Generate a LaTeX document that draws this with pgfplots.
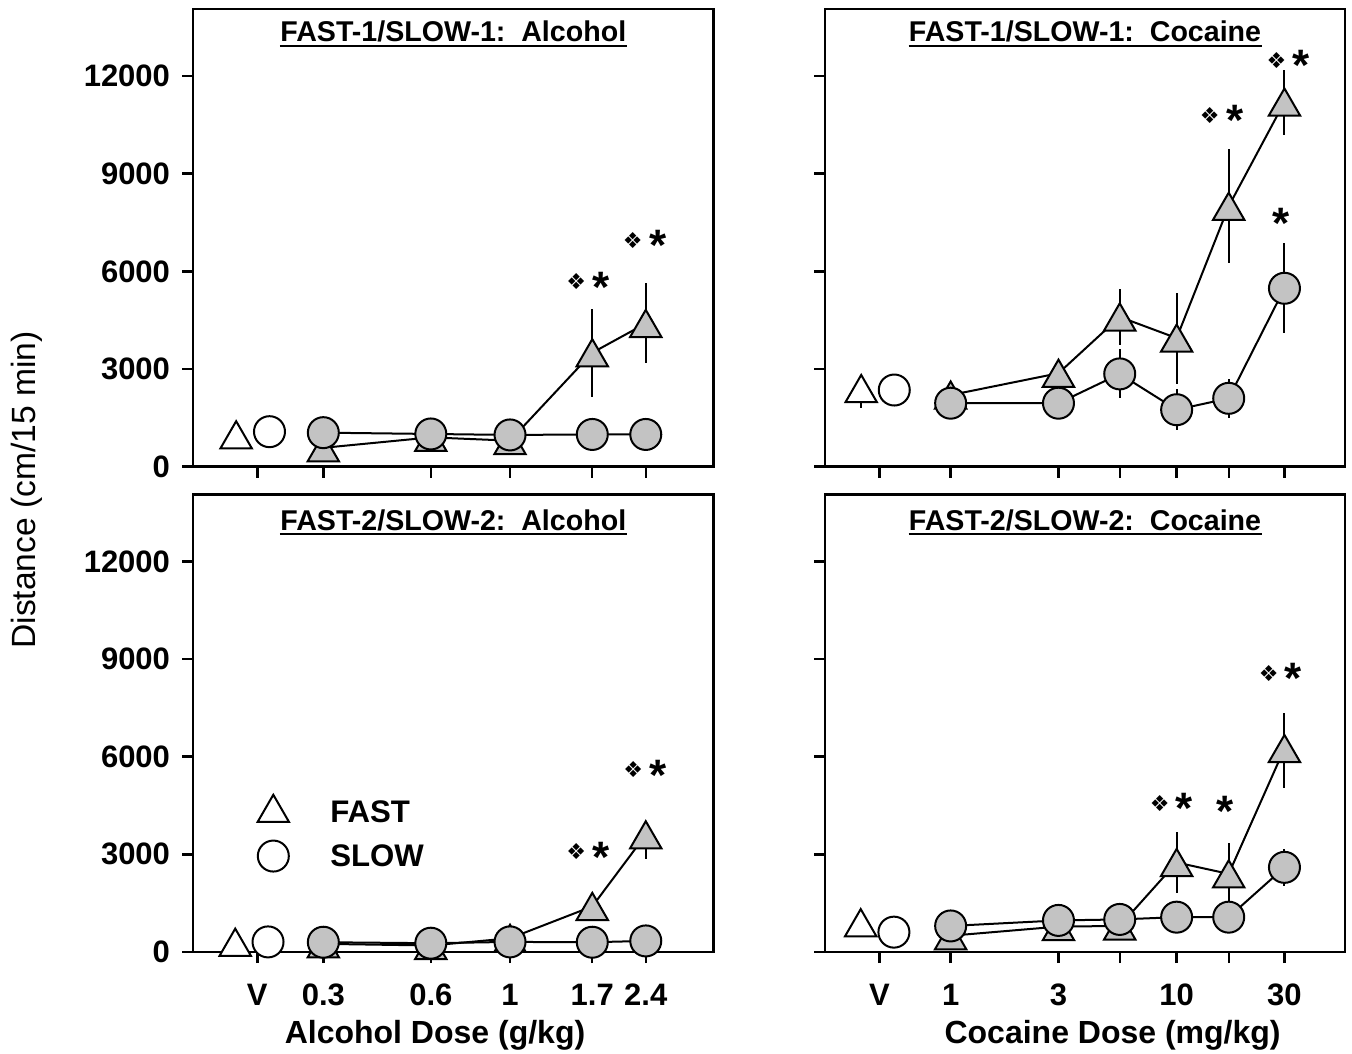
\documentclass[border=0pt]{standalone}
\usepackage{pgfplots}
\pgfplotsset{compat=1.18}
\usepackage{fontspec}
\setmainfont{Liberation Sans}
\newfontfamily\djv{DejaVu Sans}
\definecolor{mfill}{RGB}{195,195,195}

\pgfdeclareplotmark{tri}{%
  \pgfpathmoveto{\pgfqpoint{0pt}{\pgfplotmarksize}}%
  \pgfpathlineto{\pgfqpoint{1.1547\pgfplotmarksize}{-\pgfplotmarksize}}%
  \pgfpathlineto{\pgfqpoint{-1.1547\pgfplotmarksize}{-\pgfplotmarksize}}%
  \pgfpathclose
  \pgfusepathqfillstroke}

\tikzset{
  fastline/.style={black, line width=1pt, mark=tri, mark size=6.8pt, mark options={fill=mfill, solid, line width=1pt}},
  slowline/.style={black, line width=1pt, mark=*, mark size=7.75pt, mark options={fill=mfill, solid, line width=1pt}},
  vfastpt/.style={black, only marks, mark=tri, mark size=6.8pt, mark options={fill=white, solid, line width=1pt}},
  vslowpt/.style={black, only marks, mark=*, mark size=7.75pt, mark options={fill=white, solid, line width=1pt}},
}

\newcommand{\dia}[3]{\node[inner sep=0pt, font=\djv\fontsize{11}{11}\selectfont] at ([xshift=#3]axis cs:#1,#2) {❖};}
\newcommand{\astk}[3]{\node[inner sep=0pt, anchor=base, font=\fontsize{22}{22}\selectfont\bfseries] at ([xshift=#3, yshift=-10.2pt]axis cs:#1,#2) {*};}
\newcommand{\ttl}[3]{%
  \node[inner sep=0pt, anchor=base, font=\fontsize{14.3}{16}\selectfont\bfseries] (#1) at ([yshift=#3]rel axis cs:0.5,1) {#2};
  \draw[line width=1pt] ([yshift=-1.8pt]#1.base west) -- ([yshift=-1.8pt]#1.base east);}

\begin{document}
\begin{tikzpicture}
\path[use as bounding box] (0,0) rectangle (676pt,526.5pt);

% ---------------- top left: FAST-1/SLOW-1 alcohol
\begin{axis}[xmode=log,
    scale only axis, width=260pt, height=228.7pt,
    at={(96.65pt,293.15pt)}, anchor=south west,
    ymin=0, ymax=14050, ytick={0,3000,6000,9000,12000},
    xmin=0.1297, xmax=3.71, xtick={0.196,0.3,0.6,1,1.7,2.4}, xticklabels={},
    minor xtick={}, minor ytick={},
    xtick pos=left, ytick pos=left,
    tick align=outside, major tick length=5.5pt,
    axis line style={line width=1.2pt},
    every tick/.append style={black, line width=1.2pt},
    scaled y ticks=false,
    yticklabel style={/pgf/number format/1000 sep={}, /pgf/number format/assume math mode=true, inner sep=0pt, anchor=east, xshift=-6pt},
    tick label style={font=\fontsize{15.5}{18}\selectfont\bfseries},
    clip=false]
\addplot[draw=none, mark=none, forget plot, error bars/y dir=both, error bars/y explicit, error bars/error mark=none, error bars/error bar style={draw=black, line width=1pt, solid}]
  coordinates {(0.3,580) +- (0,120) (0.6,900) +- (0,100) (1,800) +- (0,120) (1.7,3500) +- (0,1350) (2.4,4400) +- (0,1230)};
\addplot[draw=none, mark=none, forget plot, error bars/y dir=both, error bars/y explicit, error bars/error mark=none, error bars/error bar style={draw=black, line width=1pt, solid}]
  coordinates {(0.3,1045) +- (0,120) (0.6,1005) +- (0,100) (1,975) +- (0,100) (1.7,990) +- (0,120) (2.4,990) +- (0,120)};
\addplot[fastline] coordinates {(0.3,580) (0.6,900) (1,800) (1.7,3500) (2.4,4400)};
\addplot[slowline] coordinates {(0.3,1045) (0.6,1005) (1,975) (1.7,990) (2.4,990)};
\addplot[vfastpt] coordinates {(0.171,980)};
\addplot[vslowpt] coordinates {(0.212,1075)};
\dia{1.7}{5680}{-8pt}\astk{1.7}{5680}{4.5pt}
\dia{2.4}{6960}{-6.5pt}\astk{2.4}{6960}{6pt}
\ttl{t1}{FAST-1/SLOW-1:\ \ Alcohol}{-16.35pt}
\end{axis}

% ---------------- top right: FAST-1/SLOW-1 cocaine
\begin{axis}[xmode=log,
    scale only axis, width=260pt, height=228.7pt,
    at={(412.5pt,293.15pt)}, anchor=south west,
    ymin=0, ymax=14050, ytick={0,3000,6000,9000,12000}, yticklabels={},
    xmin=0.278, xmax=55.6, xtick={0.484,1,3,5.6,10,17,30}, xticklabels={},
    minor xtick={}, minor ytick={},
    xtick pos=left, ytick pos=left,
    scaled y ticks=false, scaled x ticks=false,
    tick align=outside, major tick length=5.5pt,
    axis line style={line width=1.2pt},
    every tick/.append style={black, line width=1.2pt},
    clip=false]
\addplot[draw=none, mark=none, forget plot, error bars/y dir=both, error bars/y explicit, error bars/error mark=none, error bars/error bar style={draw=black, line width=1pt, solid}]
  coordinates {(0.402,2400) += (0,0) -= (0,600) (1,2200) +- (0,200) (3,2870) +- (0,250) (5.6,4600) +- (0,850) (10,3950) +- (0,1400) (17,8000) +- (0,1750) (30,11200) +- (0,1000)};
\addplot[draw=none, mark=none, forget plot, error bars/y dir=both, error bars/y explicit, error bars/error mark=none, error bars/error bar style={draw=black, line width=1pt, solid}]
  coordinates {(1,1950) +- (0,200) (3,1950) +- (0,200) (5.6,2850) +- (0,750) (10,1750) +- (0,630) (17,2100) +- (0,600) (30,5480) +- (0,1380)};
\addplot[fastline] coordinates {(1,2200) (3,2870) (5.6,4600) (10,3950) (17,8000) (30,11200)};
\addplot[slowline] coordinates {(1,1950) (3,1950) (5.6,2850) (10,1750) (17,2100) (30,5480)};
\addplot[vfastpt] coordinates {(0.402,2400)};
\addplot[vslowpt] coordinates {(0.563,2355)};
\dia{17}{10800}{-9.5pt}\astk{17}{10800}{3pt}
\dia{30}{12490}{-4pt}\astk{30}{12490}{8.5pt}
\astk{30}{7630}{-1.75pt}
\ttl{t2}{FAST-1/SLOW-1:\ \ Cocaine}{-16.35pt}
\end{axis}

% ---------------- bottom left: FAST-2/SLOW-2 alcohol
\begin{axis}[xmode=log,
    scale only axis, width=260pt, height=228.7pt,
    at={(96.65pt,50.5pt)}, anchor=south west,
    ymin=0, ymax=14050, ytick={0,3000,6000,9000,12000},
    xmin=0.1297, xmax=3.71, xtick={0.196,0.3,0.6,1,1.7,2.4}, xticklabels={V,0.3,0.6,1,1.7,2.4},
    minor xtick={}, minor ytick={},
    xtick pos=left, ytick pos=left,
    tick align=outside, major tick length=5.5pt,
    axis line style={line width=1.2pt},
    every tick/.append style={black, line width=1.2pt},
    scaled y ticks=false,
    yticklabel style={/pgf/number format/1000 sep={}, /pgf/number format/assume math mode=true, inner sep=0pt, anchor=east, xshift=-6pt},
    xticklabel style={inner sep=0pt, anchor=base, yshift=-21pt},
    tick label style={font=\fontsize{15.5}{18}\selectfont\bfseries},
    clip=false]
\addplot[draw=none, mark=none, forget plot, error bars/y dir=both, error bars/y explicit, error bars/error mark=none, error bars/error bar style={draw=black, line width=1pt, solid}]
  coordinates {(0.3,250) +- (0,100) (0.6,200) +- (0,100) (1,420) +- (0,150) (1.7,1400) +- (0,150) (2.4,3600) += (0,300) -= (0,750)};
\addplot[draw=none, mark=none, forget plot, error bars/y dir=both, error bars/y explicit, error bars/error mark=none, error bars/error bar style={draw=black, line width=1pt, solid}]
  coordinates {(0.3,300) +- (0,100) (0.6,270) +- (0,100) (1,310) +- (0,100) (1.7,300) +- (0,100) (2.4,340) +- (0,120)};
\addplot[fastline] coordinates {(0.3,250) (0.6,200) (1,420) (1.7,1400) (2.4,3600)};
\addplot[slowline] coordinates {(0.3,300) (0.6,270) (1,310) (1.7,300) (2.4,340)};
\addplot[vfastpt] coordinates {(0.170,300)};
\addplot[vslowpt] coordinates {(0.210,310)};
\dia{1.7}{3082}{-8pt}\astk{1.7}{3082}{4.5pt}
\dia{2.4}{5591}{-6.3pt}\astk{2.4}{5591}{6.2pt}
% legend
\addplot[vfastpt, forget plot] coordinates {(0.2173,4412)};
\addplot[vslowpt, forget plot] coordinates {(0.2173,2947)};
\node[inner sep=0pt, anchor=west, font=\fontsize{15.6}{18}\selectfont\bfseries] at (axis cs:0.313,4307) {FAST};
\node[inner sep=0pt, anchor=west, font=\fontsize{15.6}{18}\selectfont\bfseries] at (axis cs:0.313,2947) {SLOW};
\ttl{t3}{FAST-2/SLOW-2:\ \ Alcohol}{-18pt}
\end{axis}

% ---------------- bottom right: FAST-2/SLOW-2 cocaine
\begin{axis}[xmode=log,
    scale only axis, width=260pt, height=228.7pt,
    at={(412.5pt,50.5pt)}, anchor=south west,
    ymin=0, ymax=14050, ytick={0,3000,6000,9000,12000}, yticklabels={},
    xmin=0.278, xmax=55.6, xtick={0.484,1,3,5.6,10,17,30}, xticklabels={V,1,3,{},10,{},30},
    minor xtick={}, minor ytick={},
    xtick pos=left, ytick pos=left,
    scaled y ticks=false,
    tick align=outside, major tick length=5.5pt,
    axis line style={line width=1.2pt},
    every tick/.append style={black, line width=1.2pt},
    xticklabel style={inner sep=0pt, anchor=base, yshift=-21pt},
    tick label style={font=\fontsize{15.5}{18}\selectfont\bfseries},
    clip=false]
\addplot[draw=none, mark=none, forget plot, error bars/y dir=both, error bars/y explicit, error bars/error mark=none, error bars/error bar style={draw=black, line width=1pt, solid}]
  coordinates {(1,500) +- (0,100) (3,780) +- (0,100) (5.6,800) +- (0,100) (10,2750) +- (0,950) (17,2400) +- (0,950) (30,6250) += (0,1100) -= (0,1200)};
\addplot[draw=none, mark=none, forget plot, error bars/y dir=both, error bars/y explicit, error bars/error mark=none, error bars/error bar style={draw=black, line width=1pt, solid}]
  coordinates {(1,800) +- (0,100) (3,970) +- (0,100) (5.6,1000) +- (0,100) (10,1070) +- (0,150) (17,1070) +- (0,150) (30,2600) +- (0,560)};
\addplot[fastline] coordinates {(1,500) (3,780) (5.6,800) (10,2750) (17,2400) (30,6250)};
\addplot[slowline] coordinates {(1,800) (3,970) (5.6,1000) (10,1070) (17,1070) (30,2600)};
\addplot[vfastpt] coordinates {(0.40,900)};
\addplot[vslowpt] coordinates {(0.561,610)};
\dia{10}{4576}{-8.4pt}\astk{10}{4576}{3.9pt}
\astk{17}{4474}{-1.75pt}
\dia{30}{8560}{-7.9pt}\astk{30}{8560}{4.4pt}
\ttl{t4}{FAST-2/SLOW-2:\ \ Cocaine}{-18pt}
\end{axis}

% axis titles
\node[font=\fontsize{16}{19}\selectfont\bfseries] at (217.5pt,8.8pt) {Alcohol Dose (g/kg)};
\node[font=\fontsize{16}{19}\selectfont\bfseries] at (556.3pt,8.8pt) {Cocaine Dose (mg/kg)};
\node[rotate=90, font=\fontsize{16.8}{19}\selectfont] at (13.5pt,281.5pt) {Distance (cm/15 min)};
\end{tikzpicture}
\end{document}
